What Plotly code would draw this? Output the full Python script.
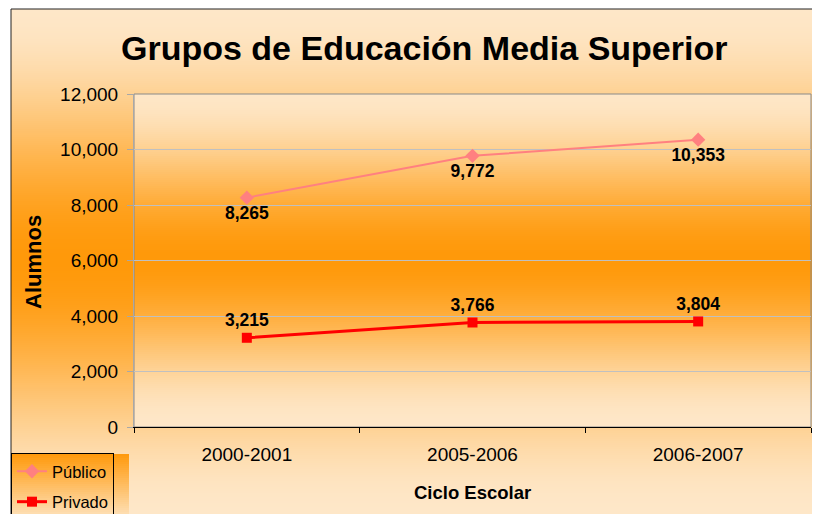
import plotly.graph_objects as go

# ---- data ----
ciclos = ["2000-2001", "2005-2006", "2006-2007"]
publico = [8265, 9772, 10353]
privado = [3215, 3766, 3804]
serie_publico = "Público"
serie_privado = "Privado"
titulo = "Grupos de Educación Media Superior"
titulo_x = "Ciclo Escolar"
titulo_y = "Alumnos"

# ---- layout geometry (window pixels; page body has an 8px margin) ----
OFF = 8
W, H = 820 - OFF, 514 - OFF
PL, PR, PT, PB = 134, 811, 94, 427  # plot area in window pixels
FONT = "Arial, Liberation Sans, sans-serif"


def fx(px):
    return (px - PL) / (PR - PL)


def fy(py):
    return (PB - py) / (PB - PT)


PALE = (254, 231, 200)
ORANGE = (255, 153, 10)


def mix(a, b, t):
    return "rgb(%d,%d,%d)" % tuple(round(a[i] + (b[i] - a[i]) * t) for i in range(3))


def smooth(t):
    t = max(0.0, min(1.0, t))
    return t * t * (3 - 2 * t)


def center_gradient(x0, x1, y0, y1, yc, half, step=2):
    out = []
    y = y0
    while y < y1:
        ym = y + step / 2
        t = smooth(abs(ym - yc) / half)
        out.append(dict(type="rect", xref="paper", yref="paper",
                        x0=fx(x0), x1=fx(x1), y0=fy(min(y + step + 0.6, y1)), y1=fy(y),
                        fillcolor=mix(ORANGE, PALE, t), line=dict(width=0), layer="below"))
        y += step
    return out


def linear_gradient(x0, x1, y0, y1, step=2):
    out = []
    y = y0
    while y < y1:
        ym = y + step / 2
        t = min(1.0, (ym - y0) / (y1 - y0))
        out.append(dict(type="rect", xref="paper", yref="paper",
                        x0=fx(x0), x1=fx(x1), y0=fy(min(y + step + 0.6, y1)), y1=fy(y),
                        fillcolor=mix(ORANGE, PALE, t), line=dict(width=0), layer="below"))
        y += step
    return out


shapes = []
shapes += center_gradient(11, 830, 9, 530, 260, 254)
shapes += center_gradient(PL, PR, PT, PB, 258, 169)
shapes.append(dict(type="rect", xref="paper", yref="paper", x0=0, x1=1, y0=0, y1=1,
                   line=dict(color="#8a8a8a", width=1), layer="below"))
shapes.append(dict(type="rect", xref="paper", yref="paper",
                   x0=fx(11), x1=fx(840), y0=fy(540), y1=fy(9),
                   line=dict(color="#222222", width=1), layer="below"))
leg = linear_gradient(11, 129, 454, 522)
for s in leg:
    s["layer"] = "above"
shapes += leg

fig = go.Figure()
fig.add_trace(go.Scatter(
    x=ciclos, y=publico, name=serie_publico, legendgroup="a",
    mode="lines+markers+text",
    line=dict(color="#FF8080", width=2),
    marker=dict(symbol="diamond", size=11, color="#FF8080"),
    text=[f"{v:,}" for v in publico], textposition="bottom center",
    textfont=dict(family=FONT, size=17.5, color="black", weight="bold"),
    cliponaxis=False,
))
fig.add_trace(go.Scatter(
    x=ciclos, y=privado, name=serie_privado, legendgroup="b",
    mode="lines+markers+text",
    line=dict(color="#FF0000", width=3),
    marker=dict(symbol="square", size=10, color="#FF0000"),
    text=[f"{v:,}" for v in privado], textposition="top center",
    textfont=dict(family=FONT, size=17.5, color="black", weight="bold"),
    cliponaxis=False,
))

annotations = [
    dict(text="<b>%s</b>" % titulo, xref="paper", yref="paper",
         x=fx(423.5), y=fy(48), xanchor="center", yanchor="middle", showarrow=False,
         font=dict(family=FONT, size=34, color="black")),
    dict(text="<b>%s</b>" % titulo_x, xref="paper", yref="paper",
         x=fx(472), y=fy(492), xanchor="center", yanchor="middle", showarrow=False,
         font=dict(family=FONT, size=18.5, color="black")),
    dict(text="<b>%s</b>" % titulo_y, xref="paper", yref="paper",
         x=fx(34), y=fy(262), xanchor="center", yanchor="middle", showarrow=False,
         textangle=-90, font=dict(family=FONT, size=22, color="black")),
]

fig.update_layout(
    width=W, height=H,
    margin=dict(l=PL - OFF, r=820 - PR, t=PT - OFF, b=514 - PB, pad=0, autoexpand=False),
    paper_bgcolor="white", plot_bgcolor="rgba(0,0,0,0)",
    shapes=shapes, annotations=annotations,
    showlegend=True,
    legend=dict(x=fx(11), y=fy(453), xanchor="left", yanchor="top",
                bgcolor="rgba(0,0,0,0)", bordercolor="black", borderwidth=1,
                font=dict(family=FONT, size=16.5, color="black"),
                tracegroupgap=6, entrywidth=110, entrywidthmode="pixels"),
    xaxis=dict(type="category", range=[-0.5, 2.5], showgrid=False,
               showline=True, linecolor="black", linewidth=1,
               ticks="outside", tickson="boundaries", ticklen=5, tickcolor="black",
               ticklabelstandoff=10,
               tickfont=dict(family=FONT, size=19, color="black")),
    yaxis=dict(range=[0, 12000], dtick=2000, tickformat=",",
               showgrid=True, gridcolor="#c0c0c0", gridwidth=1,
               showline=True, linecolor="#a8a8a8", linewidth=1,
               ticks="outside", ticklen=6, tickcolor="#a8a8a8",
               ticklabelstandoff=5, zeroline=False,
               tickfont=dict(family=FONT, size=19, color="black")),
)

fig.write_html("out.html")
